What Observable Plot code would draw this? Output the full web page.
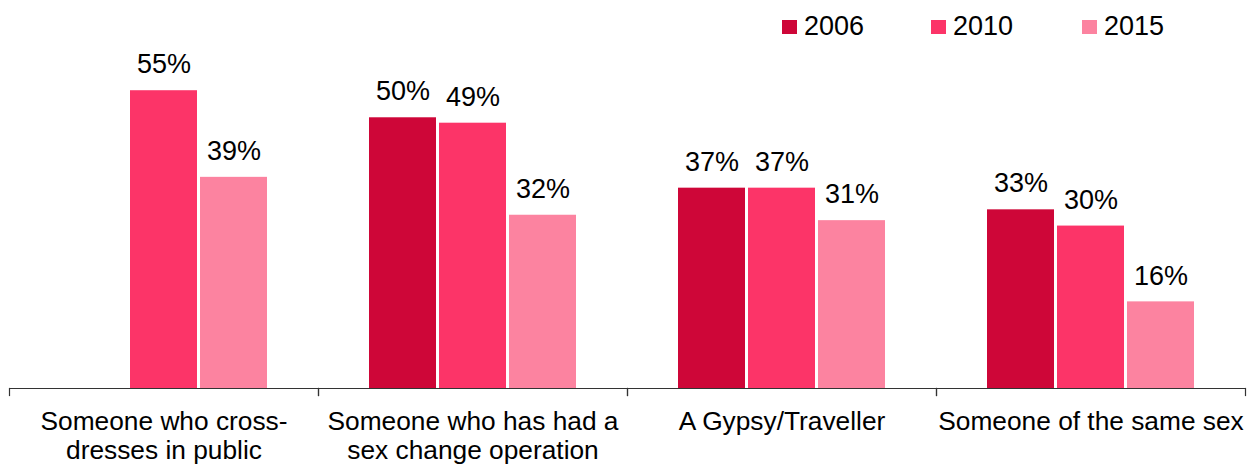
<!DOCTYPE html>
<html>
<head>
<meta charset="utf-8">
<script src="https://cdn.jsdelivr.net/npm/d3@7"></script>
<script src="https://cdn.jsdelivr.net/npm/@observablehq/plot@0.6"></script>
<style>
  html, body { margin: 0; padding: 0; background: #fff; }
  #wrap { position: relative; width: 1247px; height: 464px; font-family: "Liberation Sans", Arial, sans-serif; }
  #legend { position: absolute; top: 0; left: 0; width: 1247px; height: 50px; pointer-events: none; }
  .item { position: absolute; top: 11px; display: flex; align-items: center; font-size: 27px; color: #000; line-height: 31px; }
  .sw { width: 15px; height: 14px; margin-right: 7px; }
  svg { display: block; }
</style>
</head>
<body>
<div id="wrap"><div id="legend"></div></div>
<script>
const categories = [
  "Someone who cross-\ndresses in public",
  "Someone who has had a\nsex change operation",
  "A Gypsy/Traveller",
  "Someone of the same sex"
];
const years = ["2006", "2010", "2015"];
const v2006 = [null, 50, 37, 33];
const v2010 = [55, 49, 37, 30];
const v2015 = [39, 32, 31, 16];
const colors = ["#CE0638", "#FC3468", "#FC83A0"];

const seriesValues = [v2006, v2010, v2015];
const data = [];
categories.forEach((c, i) => {
  years.forEach((y, j) => {
    const v = seriesValues[j][i];
    if (v != null) data.push({category: c, year: y, value: v});
  });
});

const H = 464, MT = 9, MB = 76;
const plotH = H - MT - MB;

const chart = Plot.plot({
  width: 1247,
  height: H,
  marginTop: MT,
  marginBottom: MB,
  marginLeft: 8,
  marginRight: 2,
  style: {fontFamily: "Liberation Sans, Arial, sans-serif", fontSize: "26px", color: "#000", background: "#fff"},
  fx: {domain: categories, padding: 0, label: null},
  x: {domain: years, paddingInner: 0.043, paddingOuter: 0.725, axis: null},
  y: {domain: [0, 70], axis: null},
  color: {domain: years, range: colors},
  marks: [
    Plot.barY(data, {fx: "category", x: "year", y: "value", fill: "year"}),
    Plot.text(data, {fx: "category", x: "year", y: "value", text: d => d.value + "%", dy: -26, fontSize: 27, fill: "#000"}),
    Plot.ruleY([0], {stroke: "#333", strokeWidth: 1.2}),
    Plot.frame({anchor: "left", insetTop: plotH, insetBottom: -7, stroke: "#333", strokeWidth: 1.2}),
    Plot.frame({anchor: "right", insetTop: plotH, insetBottom: -7, stroke: "#333", strokeWidth: 1.2}),
    Plot.axisFx({anchor: "bottom", tickSize: 0, tickPadding: 20, fontSize: 26.3, lineHeight: 1.13, label: null, fill: "#000"})
  ]
});
document.getElementById("wrap").appendChild(chart);

const legend = document.getElementById("legend");
const legendX = [782, 931, 1082];
years.forEach((y, j) => {
  const it = document.createElement("div");
  it.className = "item";
  it.style.left = legendX[j] + "px";
  const sw = document.createElement("div");
  sw.className = "sw";
  sw.style.background = colors[j];
  it.appendChild(sw);
  const t = document.createElement("span");
  t.textContent = y;
  it.appendChild(t);
  legend.appendChild(it);
});
</script>
</body>
</html>
